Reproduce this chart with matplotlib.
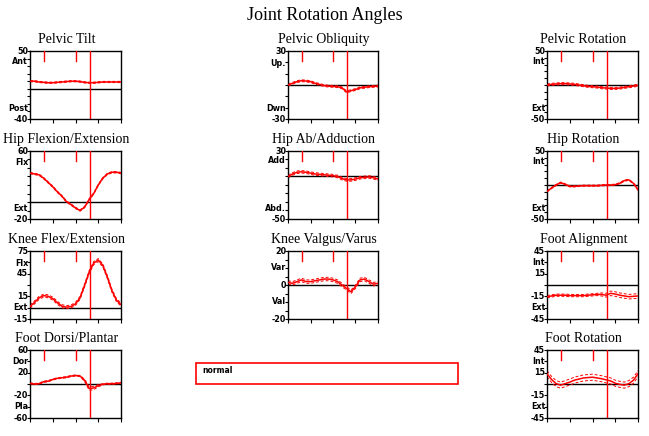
import numpy as np
import matplotlib
matplotlib.use("Agg")
import matplotlib.pyplot as plt
from matplotlib.patches import Rectangle
from matplotlib.transforms import offset_copy

# gait cycle (%), sampled every 5%
cycle = np.arange(0, 101, 5)

# events (% of cycle)
opp_toe_off = 15.5
opp_contact = 50
toe_off = 65.5

# mean curves
pelvic_tilt = [10, 10, 9, 8.5, 8, 8, 8.5, 9, 9.5, 10, 10, 9.5, 8.5, 8, 8, 8.5, 9, 9, 9, 9, 9]
pelvic_obliquity = [0, 1.5, 3, 3.8, 3.5, 3, 1.5, 0.5, -0.5, -1, -1.2, -1.5, -2.5, -6, -5, -4, -2.5, -2, -1.5, -1.2, -1]
pelvic_rotation = [0, 1, 1.5, 2, 2, 1.5, 1, 0, -1, -2, -2.5, -3, -4, -4.5, -5, -5, -4.5, -3.5, -2.5, -1.5, -0.5]
hip_flex = [34, 33, 32, 28, 23, 18, 12, 7, 0.6, -3, -7, -10, -6, 3, 10, 20, 28, 33, 35, 35, 34]
hip_abd = [0, 3, 5, 5.5, 5, 4, 3, 2.5, 2, 1.5, 1, 0, -2.5, -4, -4, -3, -1.5, -1, -0.5, -1.5, -3]
hip_rot = [-9.5, -4.5, 0, 3.5, 1, -2, -2, -1.5, -1, -1, -1, -1, -0.5, 0, 0, 0.5, 2.5, 6.5, 7.5, 2.5, -7]
knee_flex = [1.5, 7, 13, 16, 15, 12, 6.5, 2, 0.7, 1.5, 5, 13, 29.5, 47, 59, 63, 56, 40.5, 22.5, 10, 4]
knee_valgus = [1.5, 1, 2, 3, 2, 2, 2.5, 3, 3.5, 3.5, 3, 2, 0, -2, -4, -1, 3, 3.5, 2, 0.5, 1]
foot_align = [-15.5, -14.5, -13.5, -13.5, -13.5, -14, -14, -14, -14, -13.5, -13, -12.5, -12.5, -13.5, -11, -12, -13.5, -14.5, -15.5, -15, -14.5]
foot_dorsi = [1, 0, 0.5, 4, 5, 8, 10, 11, 12, 14, 15, 14, 6.5, -8, -7, -3, -0.5, 0.5, 0.5, 1, 2]
foot_rot = [13.5, 6, 0.5, -1.5, 0.5, 2.5, 5, 6.5, 8, 8.5, 9, 8, 7, 5.5, 4, 1, -0.5, -1.5, 0.5, 5, 13.5]

# spread of the dashed band
sd_small = [0.8] * 21
sd_mid = [1.5] * 21
sd_valgus = [1] * 21
sd_knee = [2] * 21
sd_align = [1.5] * 12 + [2, 2.5, 3, 3, 3, 3, 3, 3, 3]
sd_dorsi = [1] * 12 + [2, 3, 3, 2, 1, 1, 1, 1, 1]
sd_footrot = [4] * 21

# (title, ylim, y labels, minor tick step, mean, sd, (row, col))
panels = [
    ("Pelvic Tilt", (-40, 50), [(50, "50"), (36, "Ant"), (-26, "Post"), (-40, "-40")], 10, pelvic_tilt, sd_small, (0, 0)),
    ("Pelvic Obliquity", (-30, 30), [(30, "30"), (19, "Up."), (-21, "Dwn"), (-30, "-30")], 10, pelvic_obliquity, sd_small, (0, 1)),
    ("Pelvic Rotation", (-50, 50), [(50, "50"), (34, "Int"), (-35, "Ext"), (-50, "-50")], 10, pelvic_rotation, sd_mid, (0, 2)),
    ("Hip Flexion/Extension", (-20, 60), [(60, "60"), (47, "Flx"), (-8, "Ext"), (-20, "-20")], 10, hip_flex, sd_small, (1, 0)),
    ("Hip Ab/Adduction", (-50, 30), [(30, "30"), (19, "Add"), (-38, "Abd."), (-50, "-50")], 10, hip_abd, sd_mid, (1, 1)),
    ("Hip Rotation", (-50, 50), [(50, "50"), (35, "Int"), (-35, "Ext"), (-50, "-50")], 10, hip_rot, sd_small, (1, 2)),
    ("Knee Flex/Extension", (-15, 75), [(75, "75"), (58, "Flx"), (45, "45"), (15, "15"), (0, "Ext"), (-15, "-15")], 15, knee_flex, sd_knee, (2, 0)),
    ("Knee Valgus/Varus", (-20, 20), [(20, "20"), (10, "Var"), (0, "0"), (-10, "Val"), (-20, "-20")], 5, knee_valgus, sd_valgus, (2, 1)),
    ("Foot Alignment", (-45, 45), [(45, "45"), (30, "Int"), (15, "15"), (-15, "-15"), (-30, "Ext"), (-45, "-45")], 15, foot_align, sd_align, (2, 2)),
    ("Foot Dorsi/Plantar", (-60, 60), [(60, "60"), (40, "Dor"), (20, "20"), (-20, "-20"), (-40, "Pla"), (-60, "-60")], 20, foot_dorsi, sd_dorsi, (3, 0)),
    ("Foot Rotation", (-45, 45), [(45, "45"), (30, "Int"), (15, "15"), (-15, "-15"), (-30, "Ext"), (-45, "-45")], 15, foot_rot, sd_footrot, (3, 2)),
]

W, H = 649, 436
col_x = [(30, 121), (288, 378), (547, 638)]
row_y = [(51, 119), (151, 219), (251, 319), (350, 418)]

fig = plt.figure(figsize=(W / 100, H / 100), dpi=100)
fig.patch.set_facecolor("white")

fig.text(0.5, 1 - 16 / H, "Joint Rotation Angles", ha="center", va="center",
         fontsize=13, family="Liberation Serif")

for title, ylim, labels, step, mean, sd, (r, c) in panels:
    x0, x1 = col_x[c]
    y0, y1 = row_y[r]
    ax = fig.add_axes([x0 / W, 1 - y1 / H, (x1 - x0) / W, (y1 - y0) / H])
    ax.set_xlim(0, 100)
    ax.set_ylim(*ylim)
    for s in ax.spines.values():
        s.set_linewidth(1)
        s.set_color("black")

    mean = np.array(mean)
    sd = np.array(sd)
    ax.axhline(0, color="black", lw=1, zorder=1)
    ax.plot(cycle, mean + sd, color="red", lw=0.7, ls=(0, (3, 2)), zorder=2)
    ax.plot(cycle, mean - sd, color="red", lw=0.7, ls=(0, (3, 2)), zorder=2)
    ax.plot(cycle, mean, color="red", lw=1.1, zorder=3)

    # gait events
    ax.axvline(toe_off, color="red", lw=1, zorder=4)
    for ev in (opp_toe_off, opp_contact):
        ax.axvline(ev, ymin=0.86, ymax=1, color="red", lw=1, zorder=4)

    ax.set_xticks([0, 25, 50, 75, 100])
    ax.set_xticklabels([])
    ax.tick_params(axis="x", direction="out", length=3, width=0.8)
    ax.set_yticks(np.arange(ylim[0], ylim[1] + 0.1, step))
    ax.set_yticklabels([])
    ax.tick_params(axis="y", direction="out", length=2, width=0.8)

    lab_tr = offset_copy(ax.get_yaxis_transform(), fig=fig, x=-2, y=0, units="dots")
    for val, txt in labels:
        ax.text(0, val, txt, transform=lab_tr, ha="right", va="center",
                fontsize=5.8, fontweight="bold", family="DejaVu Sans")

    t_tr = offset_copy(ax.transAxes, fig=fig, x=-9, y=8, units="dots")
    ax.text(0.5, 1, title, transform=t_tr, ha="center", va="baseline",
            fontsize=10, family="Liberation Serif")

# legend box
fig.patches.append(Rectangle((196 / W, 1 - 384 / H), (458 - 196) / W, (384 - 363) / H,
                             transform=fig.transFigure, fill=False, edgecolor="red", lw=1.2))
fig.text(202 / W, 1 - 370 / H, "normal", ha="left", va="center",
         fontsize=5.5, fontweight="bold", family="DejaVu Sans")

fig.savefig("out.png", dpi=100)
